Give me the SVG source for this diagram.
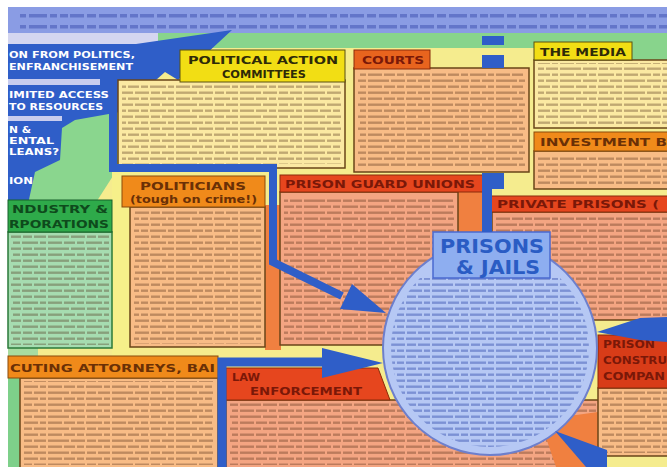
<svg xmlns="http://www.w3.org/2000/svg" width="667" height="467" viewBox="0 0 667 467">
<defs>
<pattern id="tx" width="64" height="12" patternUnits="userSpaceOnUse">
<g fill="#4a2410" fill-opacity="0.33">
<rect x="0" y="1.5" width="11" height="2.4"/><rect x="13" y="1.5" width="7" height="2.4"/><rect x="22" y="1.5" width="16" height="2.4"/><rect x="40" y="1.5" width="6" height="2.4"/><rect x="48" y="1.5" width="14" height="2.4"/>
<rect x="0" y="7.5" width="5" height="2.4"/><rect x="7" y="7.5" width="14" height="2.4"/><rect x="23" y="7.5" width="9" height="2.4"/><rect x="34" y="7.5" width="12" height="2.4"/><rect x="48" y="7.5" width="16" height="2.4"/>
</g>
</pattern>
<pattern id="txb" width="64" height="12" patternUnits="userSpaceOnUse">
<g fill="#2a46a8" fill-opacity="0.42">
<rect x="0" y="1.5" width="11" height="2.4"/><rect x="13" y="1.5" width="7" height="2.4"/><rect x="22" y="1.5" width="16" height="2.4"/><rect x="40" y="1.5" width="6" height="2.4"/><rect x="48" y="1.5" width="14" height="2.4"/>
<rect x="0" y="7.5" width="5" height="2.4"/><rect x="7" y="7.5" width="14" height="2.4"/><rect x="23" y="7.5" width="9" height="2.4"/><rect x="34" y="7.5" width="12" height="2.4"/><rect x="48" y="7.5" width="16" height="2.4"/>
</g>
</pattern>
<pattern id="txband" width="70" height="11" patternUnits="userSpaceOnUse">
<g fill="#3444a8" fill-opacity="0.45">
<rect x="0" y="3" width="14" height="3.5"/><rect x="17" y="3" width="9" height="3.5"/><rect x="29" y="3" width="18" height="3.5"/><rect x="50" y="3" width="7" height="3.5"/><rect x="60" y="3" width="8" height="3.5"/>
</g>
</pattern>
<clipPath id="circ"><circle cx="490" cy="348" r="99"/></clipPath>
</defs>
<style>
.bd{stroke:#6a4418;stroke-width:1.5}
.yb{fill:#fbe9a2}
.ob{fill:#f8bc86}
.sb{fill:#f4a582}
.gb{fill:#a6dcb0;stroke:#2a7a3a;stroke-width:1.5}
.hr{fill:#e6461e;stroke:#8a2a0a;stroke-width:1}
.ho{fill:#f08a1a;stroke:#8a4a0a;stroke-width:1}
.hy{fill:#f2de14;stroke:#5a5010;stroke-width:1}
.hg{fill:#2eaa4a;stroke:#16602a;stroke-width:1}
.ht{font-family:"DejaVu Sans",sans-serif;font-weight:bold;font-size:10px}
.tr{fill:#7a1808}
.to{fill:#6a3006}
.ty{fill:#2e2a08}
.tg{fill:#0e4a1c}
.lw{font-family:"DejaVu Sans",sans-serif;font-weight:bold;font-size:8.5px;fill:#ffffff}
.blu{fill:#2f5ec8}
</style>

<!-- background -->
<rect x="0" y="0" width="667" height="467" fill="#ffffff"/>
<rect x="8" y="7" width="659" height="460" fill="#f5ec8e"/>
<rect x="8" y="7" width="659" height="26" fill="#8a9ce4"/>
<rect x="20" y="9" width="647" height="22" fill="url(#txband)"/>
<rect x="150" y="33" width="517" height="15" fill="#88d48c"/>
<rect x="632" y="33" width="35" height="27" fill="#88d48c"/>
<rect x="8" y="33" width="150" height="12" fill="#d4d6f0"/>
<rect x="8" y="44" width="112" height="160" fill="#8ad68e"/>
<polygon points="95,204 120,165 120,204" fill="#f5ec8e"/>
<rect x="8" y="345" width="30" height="12" fill="#a8dca0"/>

<!-- left cropped node -->
<g id="left-causes">
<polygon class="blu" points="8,44 136,44 232,30 178,80 165,72 120,112 75,120 62,128 60,160 35,172 28,204 8,204"/>
<rect x="8" y="79" width="92" height="6" fill="#c8cdee"/>
<rect x="8" y="116" width="54" height="5" fill="#c8cdee"/>
<text class="lw" x="9" y="58" textLength="126" lengthAdjust="spacingAndGlyphs">ON FROM POLITICS,</text>
<text class="lw" x="9" y="70" textLength="124" lengthAdjust="spacingAndGlyphs">ENFRANCHISEMENT</text>
<text class="lw" x="9" y="98" textLength="100" lengthAdjust="spacingAndGlyphs">IMITED ACCESS</text>
<text class="lw" x="9" y="110" textLength="94" lengthAdjust="spacingAndGlyphs">TO RESOURCES</text>
<text class="lw" x="9" y="133" textLength="22" lengthAdjust="spacingAndGlyphs">N &amp;</text>
<text class="lw" x="9" y="144" textLength="45" lengthAdjust="spacingAndGlyphs">ENTAL</text>
<text class="lw" x="9" y="155" textLength="50" lengthAdjust="spacingAndGlyphs">LEANS?</text>
<text class="lw" x="9" y="184" textLength="24" lengthAdjust="spacingAndGlyphs">ION</text>
</g>

<g id="pac">
<rect class="yb bd" x="118" y="80" width="227" height="88"/>
<rect x="122" y="84" width="219" height="80" fill="url(#tx)"/>
<rect class="hy" x="180" y="50" width="165" height="32"/>
<text class="ht ty" x="188" y="64" font-size="11" textLength="150" lengthAdjust="spacingAndGlyphs">POLITICAL ACTION</text>
<text class="ht ty" x="222" y="78" font-size="11" textLength="84" lengthAdjust="spacingAndGlyphs">COMMITTEES</text>
</g>

<g id="courts">
<rect class="ob bd" x="354" y="68" width="175" height="104"/>
<rect x="358" y="72" width="167" height="96" fill="url(#tx)"/>
<rect class="hr" x="354" y="50" width="76" height="19" style="fill:#e8641e"/>
<text class="ht tr" x="362" y="64" textLength="62" lengthAdjust="spacingAndGlyphs">COURTS</text>
</g>

<g id="media">
<rect class="yb bd" x="534" y="60" width="140" height="68"/>
<rect x="538" y="63" width="129" height="62" fill="url(#tx)"/>
<rect class="hy" x="534" y="42" width="98" height="18"/>
<text class="ht ty" x="540" y="56" textLength="86" lengthAdjust="spacingAndGlyphs">THE MEDIA</text>
</g>

<g id="investment">
<rect class="ob bd" x="534" y="151" width="140" height="38"/>
<rect x="538" y="154" width="129" height="32" fill="url(#tx)"/>
<rect class="ho" x="534" y="132" width="140" height="19"/>
<text class="ht to" x="540" y="146" textLength="127" lengthAdjust="spacingAndGlyphs">INVESTMENT B</text>
</g>

<!-- orange strips -->
<rect x="265" y="205" width="16" height="145" fill="#f08040"/>
<rect x="458" y="192" width="34" height="150" fill="#f08040"/>
<rect x="112" y="170" width="18" height="188" fill="#f6f08a"/>

<g id="politicians">
<rect class="ob bd" x="130" y="207" width="135" height="140"/>
<rect x="134" y="210" width="127" height="134" fill="url(#tx)"/>
<rect class="ho" x="122" y="176" width="143" height="31"/>
<text class="ht to" x="140" y="190" textLength="106" lengthAdjust="spacingAndGlyphs">POLITICIANS</text>
<text class="ht to" x="130" y="203" font-size="9" textLength="127" lengthAdjust="spacingAndGlyphs">(tough on crime!)</text>
</g>

<g id="prison-guard-unions">
<rect class="sb bd" x="280" y="192" width="178" height="153"/>
<rect x="284" y="196" width="170" height="146" fill="url(#tx)"/>
<rect class="hr" x="280" y="175" width="205" height="17"/>
<text class="ht tr" x="285" y="188" textLength="190" lengthAdjust="spacingAndGlyphs">PRISON GUARD UNIONS</text>
</g>

<g id="private-prisons">
<rect class="sb bd" x="492" y="212" width="180" height="108"/>
<rect x="496" y="215" width="171" height="102" fill="url(#tx)"/>
<rect class="hr" x="490" y="196" width="180" height="16"/>
<text class="ht tr" x="497" y="208" textLength="162" lengthAdjust="spacingAndGlyphs">PRIVATE PRISONS (</text>
</g>

<g id="industry">
<rect class="gb" x="8" y="232" width="104" height="116"/>
<rect x="11" y="235" width="98" height="110" fill="url(#tx)"/>
<rect class="hg" x="8" y="200" width="104" height="32"/>
<text class="ht tg" x="12" y="213" textLength="96" lengthAdjust="spacingAndGlyphs">NDUSTRY &amp;</text>
<text class="ht tg" x="9" y="228" textLength="100" lengthAdjust="spacingAndGlyphs">RPORATIONS</text>
</g>

<g id="attorneys">
<rect x="8" y="378" width="12" height="89" fill="#7ed08a"/>
<rect class="ob bd" x="20" y="378" width="198" height="92"/>
<rect x="24" y="381" width="190" height="84" fill="url(#tx)"/>
<rect class="ho" x="8" y="356" width="210" height="22"/>
<text class="ht to" x="10" y="372" textLength="205" lengthAdjust="spacingAndGlyphs">CUTING ATTORNEYS, BAI</text>
</g>

<g id="law-enforcement">
<rect class="sb bd" x="226" y="400" width="374" height="70"/>
<rect x="230" y="403" width="366" height="62" fill="url(#tx)"/>
<polygon class="hr" points="226,368 378,368 390,400 226,400"/>
<text class="ht tr" x="232" y="381" textLength="28" lengthAdjust="spacingAndGlyphs">LAW</text>
<text class="ht tr" x="250" y="395" textLength="112" lengthAdjust="spacingAndGlyphs">ENFORCEMENT</text>
</g>

<g id="construction">
<polygon points="540,420 598,412 600,467 556,467" fill="#f08040"/>
<rect class="ob bd" x="598" y="388" width="72" height="68"/>
<rect x="602" y="391" width="65" height="62" fill="url(#tx)"/>
<rect class="hr" x="598" y="335" width="72" height="53" style="fill:#d83c18"/>
<text class="ht tr" x="603" y="348" textLength="52" lengthAdjust="spacingAndGlyphs">PRISON</text>
<text class="ht tr" x="603" y="364" textLength="64" lengthAdjust="spacingAndGlyphs">CONSTRU</text>
<text class="ht tr" x="603" y="380" textLength="62" lengthAdjust="spacingAndGlyphs">COMPAN</text>
</g>

<g id="prisons-jails">
<circle cx="490" cy="348" r="107" fill="#b6c8f4" stroke="#6d7fcc" stroke-width="2"/>
<rect x="388" y="278" width="204" height="172" fill="url(#txb)" clip-path="url(#circ)"/>
<rect x="433" y="232" width="117" height="46" fill="#8eaef0" stroke="#4a6ad0" stroke-width="1.5"/>
<text x="440" y="253" font-family="DejaVu Sans, sans-serif" font-weight="bold" font-size="19" fill="#2a5cc4" textLength="104" lengthAdjust="spacingAndGlyphs">PRISONS</text>
<text x="456" y="274" font-family="DejaVu Sans, sans-serif" font-weight="bold" font-size="19" fill="#2a5cc4" textLength="84" lengthAdjust="spacingAndGlyphs">&amp; JAILS</text>
</g>

<g id="connectors">
<rect class="blu" x="482" y="36" width="22" height="9"/>
<rect class="blu" x="482" y="55" width="22" height="13"/>
<rect class="blu" x="482" y="173" width="22" height="16"/>
<rect class="blu" x="482" y="188" width="10" height="44"/>
<path d="M113,80 V168 H273 V262 L342,296" fill="none" stroke="#2f5ec8" stroke-width="8" stroke-linejoin="miter"/>
<polygon class="blu" points="352,284 386,313 340,309"/>
<path d="M222,467 V362 H330" fill="none" stroke="#2f5ec8" stroke-width="9"/>
<polygon class="blu" points="322,348 383,363 322,378"/>
<polygon class="blu" points="597,332 640,318 667,317 667,342 640,340"/>
<polygon class="blu" points="555,431 607,450 607,467 586,467"/>
</g>
</svg>
